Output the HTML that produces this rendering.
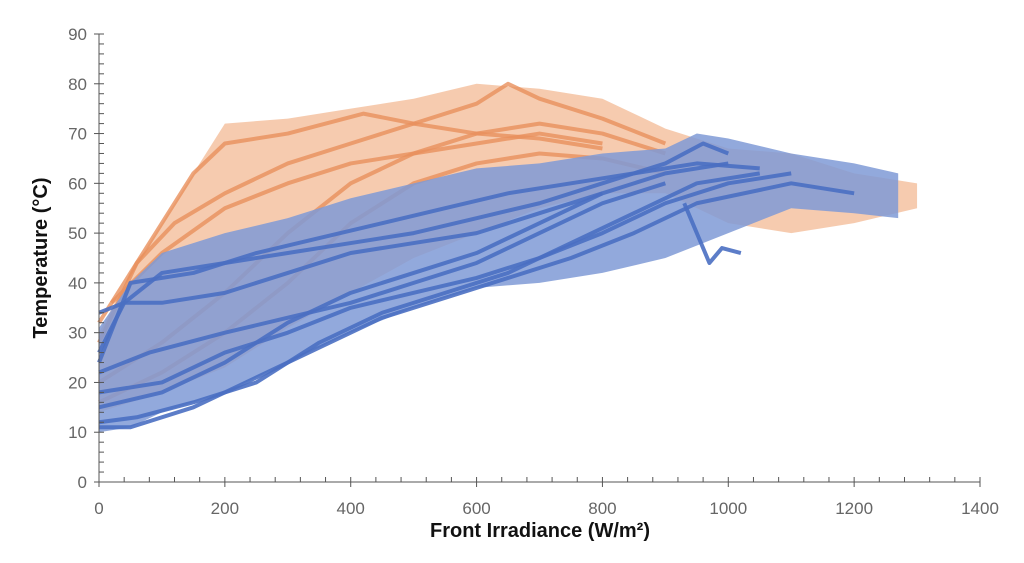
<!DOCTYPE html>
<html><head><meta charset="utf-8"><style>
body{margin:0;background:#fff;}
svg{display:block;font-family:"Liberation Sans",sans-serif;}
</style></head><body>
<svg id="chart" width="1024" height="563">
<g id="clouds"></g><g id="lines"></g><g id="axes"></g>
<text x="540" y="537" text-anchor="middle" font-size="20" font-weight="bold" fill="#111">Front Irradiance (W/m²)</text>
<text transform="translate(47,258) rotate(-90)" text-anchor="middle" font-size="20" font-weight="bold" fill="#111">Temperature (°C)</text>
</svg>
<script>
const xTicks=[0,200,400,600,800,1000,1200,1400];
const yTicks=[0,10,20,30,40,50,60,70,80,90];
const orangeUpper=[[0,30],[50,42],[100,52],[150,62],[200,72],[300,73],[400,75],[500,77],[600,80],[700,79],[800,77],[900,71],[1000,67],[1100,66],[1200,62],[1300,60]];
const orangeLower=[[1300,55],[1200,52],[1100,50],[1000,52],[900,58],[800,58],[700,55],[600,50],[500,45],[400,38],[300,31],[200,23],[100,18],[0,14]];
const blueUpper=[[0,31],[50,40],[100,46],[200,50],[300,53],[400,57],[500,60],[600,63],[700,64],[800,66],[900,67],[950,70],[1000,69],[1100,66],[1200,64],[1270,62]];
const blueLower=[[1270,53],[1200,54],[1100,55],[1000,50],[900,45],[800,42],[700,40],[600,39],[500,35],[400,30],[300,24],[200,18],[100,14],[50,11],[0,10]];
const orangeLines=[
[[0,28],[60,44],[120,52],[200,58],[300,64],[400,68],[500,72],[600,76],[650,80],[700,77],[800,73],[900,68]],
[[0,20],[100,28],[200,38],[300,50],[400,60],[500,66],[600,70],[700,72],[800,70],[900,66]],
[[0,32],[80,48],[150,62],[200,68],[300,70],[420,74],[500,72],[600,70],[700,69],[800,67]],
[[0,16],[100,22],[200,30],[300,40],[400,52],[500,60],[600,64],[700,66],[800,65],[900,62]],
[[20,36],[100,46],[200,55],[300,60],[400,64],[500,66],[600,68],[700,70],[800,68]]
];
const blueLines=[
[[0,26],[40,36],[100,42],[200,44],[300,46],[400,48],[500,50],[600,53],[700,56],[800,60],[900,64],[960,68],[1000,66]],
[[0,12],[60,13],[150,16],[250,20],[350,28],[450,34],[550,38],[650,42],[750,48],[850,54],[950,60],[1050,62]],
[[0,22],[80,26],[200,30],[300,33],[400,36],[500,40],[600,44],[700,50],[800,56],[900,60]],
[[0,24],[50,40],[150,42],[250,46],[350,49],[450,52],[550,55],[650,58],[750,60],[850,62],[950,64],[1050,63]],
[[0,15],[100,18],[200,24],[300,32],[400,38],[500,42],[600,46],[700,52],[800,58],[900,62],[1000,64]],
[[0,34],[40,36],[100,36],[200,38],[300,42],[400,46],[500,48],[600,50],[700,54],[800,58]],
[[0,18],[100,20],[200,26],[300,30],[400,35],[500,38],[600,41],[700,45],[800,50],[900,56],[1000,60],[1100,62]],
[[0,11],[50,11],[150,15],[250,21],[350,27],[450,33],[550,37],[650,41],[750,45],[850,50],[950,56],[1100,60],[1200,58]],
[[930,56],[950,50],[970,44],[990,47],[1020,46]]
];
const X0=99,X1=980,Y0=482,Y1=34;
const sx=v=>X0+(v/1400)*(X1-X0);
const sy=v=>Y0-(v/90)*(Y0-Y1);
const NS="http://www.w3.org/2000/svg";
function mk(tag,attrs,parent){const e=document.createElementNS(NS,tag);for(const k in attrs)e.setAttribute(k,attrs[k]);parent.appendChild(e);return e;}
const clouds=document.getElementById('clouds'),lines=document.getElementById('lines'),axes=document.getElementById('axes');
function poly(up,lo){return up.concat(lo).map(p=>sx(p[0])+','+sy(p[1])).join(' ');}
let oc=mk('polygon',{points:poly(orangeUpper,orangeLower),fill:'#f3b994','fill-opacity':'0.75'},clouds);


orangeLines.forEach((l,i)=>{
 const e=mk('polyline',{points:l.map(p=>sx(p[0])+','+sy(p[1])).join(' '),fill:'none',stroke:'#e8905c','stroke-width':4,'stroke-opacity':0.8,'stroke-linejoin':'round'},clouds);
 
 
});
let bc=mk('polygon',{points:poly(blueUpper,blueLower),fill:'#7f9ad6','fill-opacity':'0.85'},lines);


blueLines.forEach((l,i)=>{
 const e=mk('polyline',{points:l.map(p=>sx(p[0])+','+sy(p[1])).join(' '),fill:'none',stroke:'#4a6fc2','stroke-width':4,'stroke-opacity':0.9,'stroke-linejoin':'round'},lines);
 
 
});
mk('line',{x1:X0,y1:Y1,x2:X0,y2:Y0,stroke:'#555','stroke-width':1},axes);
mk('line',{x1:X0,y1:Y0,x2:X1,y2:Y0,stroke:'#555','stroke-width':1},axes);
for(let v=0;v<=90;v+=2){const y=sy(v);const maj=v%10===0;mk('line',{x1:maj?X0-5:X0,y1:y,x2:X0+5,y2:y,stroke:'#555'},axes);}
for(let v=0;v<=1400;v+=40){const x=sx(v);const maj=v%200===0;mk('line',{x1:x,y1:Y0-5,x2:x,y2:maj?Y0+5:Y0,stroke:'#555'},axes);}
yTicks.forEach(v=>{const t=mk('text',{x:X0-12,y:sy(v)+6,'text-anchor':'end','font-size':17,fill:'#666'},axes);t.textContent=v;
 
 });
xTicks.forEach(v=>{const t=mk('text',{x:sx(v),y:Y0+32,'text-anchor':'middle','font-size':17,fill:'#666'},axes);t.textContent=v;
 
 });
</script>
</body></html>
